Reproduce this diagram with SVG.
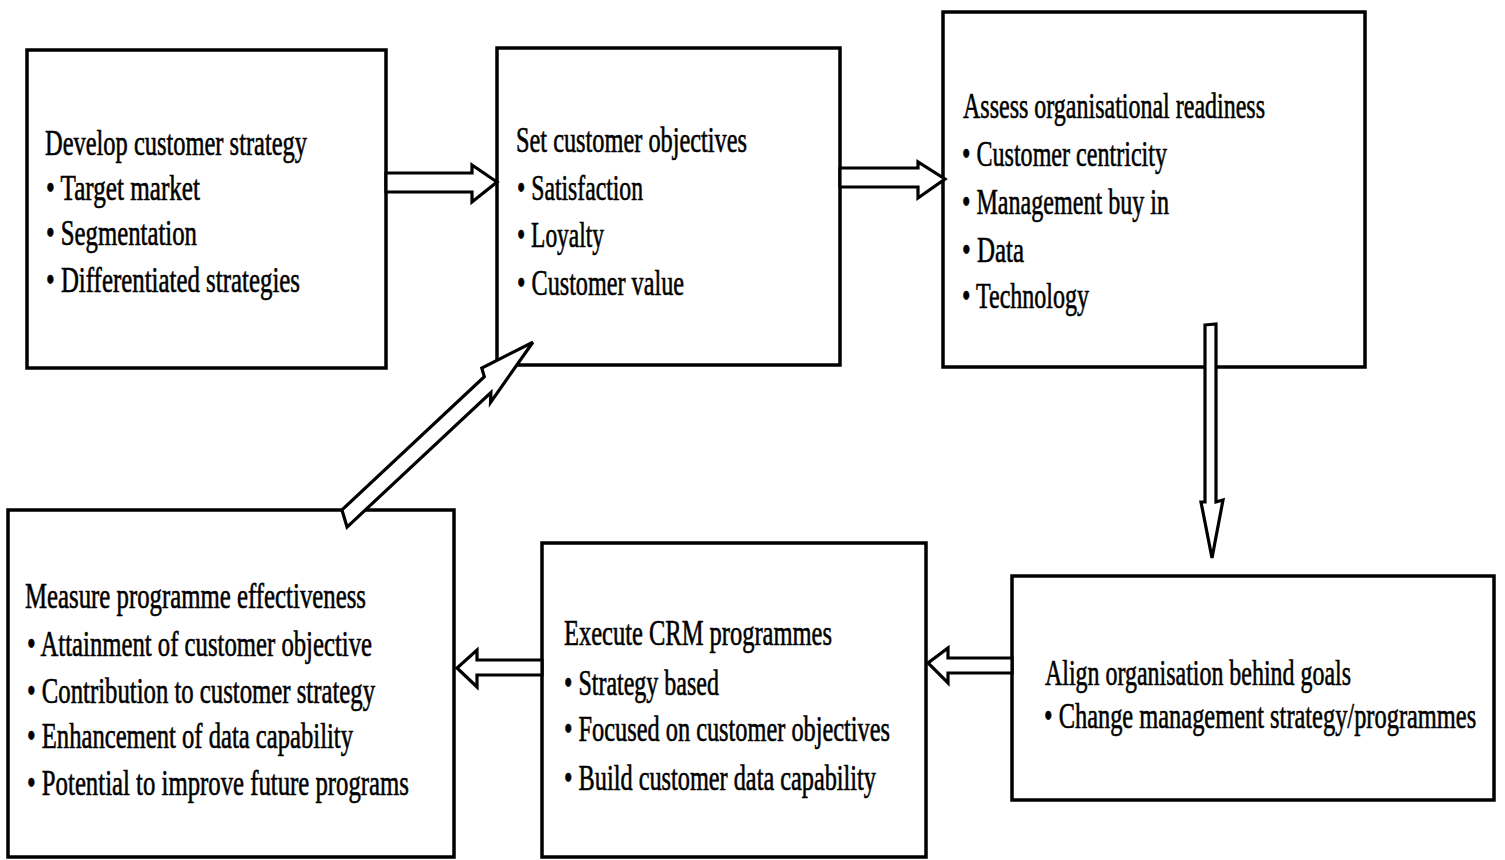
<svg xmlns="http://www.w3.org/2000/svg" width="1505" height="860" viewBox="0 0 1505 860">
  <style>
    .box { fill: #ffffff; stroke: #000000; stroke-width: 3.5; }
    .arrow { fill: #ffffff; stroke: #000000; stroke-width: 3.2; stroke-linejoin: miter; }
    .t { font-family: "Liberation Serif", "Times New Roman", serif; font-size: 35px; fill: #000000; stroke: #000000; stroke-width: 0.6; }
  </style>
  <rect width="1505" height="860" fill="#ffffff"/>

  <!-- Step 1 -->
  <g id="develop-strategy">
    <rect class="box" x="27" y="50" width="359" height="318"/>
    <text class="t" x="45" y="155" textLength="262" lengthAdjust="spacingAndGlyphs">Develop customer strategy</text>
    <text class="t" x="46" y="200" textLength="154" lengthAdjust="spacingAndGlyphs">• Target market</text>
    <text class="t" x="46" y="245" textLength="151" lengthAdjust="spacingAndGlyphs">• Segmentation</text>
    <text class="t" x="46" y="292" textLength="254" lengthAdjust="spacingAndGlyphs">• Differentiated strategies</text>
  </g>

  <!-- Step 2 -->
  <g id="set-objectives">
    <rect class="box" x="497" y="48" width="343" height="317"/>
    <text class="t" x="516" y="152" textLength="231" lengthAdjust="spacingAndGlyphs">Set customer objectives</text>
    <text class="t" x="517" y="200" textLength="126" lengthAdjust="spacingAndGlyphs">• Satisfaction</text>
    <text class="t" x="517" y="247" textLength="87" lengthAdjust="spacingAndGlyphs">• Loyalty</text>
    <text class="t" x="517" y="295" textLength="167" lengthAdjust="spacingAndGlyphs">• Customer value</text>
  </g>

  <!-- Step 3 -->
  <g id="assess-readiness">
    <rect class="box" x="943" y="12" width="422" height="355"/>
    <text class="t" x="963" y="118" textLength="302" lengthAdjust="spacingAndGlyphs">Assess organisational readiness</text>
    <text class="t" x="962" y="166" textLength="205" lengthAdjust="spacingAndGlyphs">• Customer centricity</text>
    <text class="t" x="962" y="214" textLength="207" lengthAdjust="spacingAndGlyphs">• Management buy in</text>
    <text class="t" x="962" y="262" textLength="62" lengthAdjust="spacingAndGlyphs">• Data</text>
    <text class="t" x="962" y="308" textLength="127" lengthAdjust="spacingAndGlyphs">• Technology</text>
  </g>

  <!-- Step 4 -->
  <g id="align-organisation">
    <rect class="box" x="1012" y="576" width="482" height="224"/>
    <text class="t" x="1045" y="685" textLength="306" lengthAdjust="spacingAndGlyphs">Align organisation behind goals</text>
    <!-- long line: condensed with a horizontal scale so its box stays inside the frame -->
    <text class="t" transform="translate(1044,728) scale(0.697,1)" x="0" y="0" textLength="620" lengthAdjust="spacingAndGlyphs">• Change management strategy/programmes</text>
  </g>

  <!-- Step 5 -->
  <g id="execute-programmes">
    <rect class="box" x="542" y="543" width="384" height="314"/>
    <text class="t" x="564" y="645" textLength="268" lengthAdjust="spacingAndGlyphs">Execute CRM programmes</text>
    <text class="t" x="564" y="695" textLength="155" lengthAdjust="spacingAndGlyphs">• Strategy based</text>
    <text class="t" x="564" y="741" textLength="326" lengthAdjust="spacingAndGlyphs">• Focused on customer objectives</text>
    <text class="t" x="564" y="790" textLength="312" lengthAdjust="spacingAndGlyphs">• Build customer data capability</text>
  </g>

  <!-- Step 6 -->
  <g id="measure-effectiveness">
    <rect class="box" x="8" y="510" width="446" height="347"/>
    <text class="t" x="25" y="608" textLength="341" lengthAdjust="spacingAndGlyphs">Measure programme effectiveness</text>
    <text class="t" x="27" y="656" textLength="345" lengthAdjust="spacingAndGlyphs">• Attainment of customer objective</text>
    <text class="t" x="27" y="703" textLength="348" lengthAdjust="spacingAndGlyphs">• Contribution to customer strategy</text>
    <text class="t" x="27" y="748" textLength="326" lengthAdjust="spacingAndGlyphs">• Enhancement of data capability</text>
    <text class="t" x="27" y="795" textLength="382" lengthAdjust="spacingAndGlyphs">• Potential to improve future programs</text>
  </g>

  <!-- Block arrows between steps -->
  <g id="connectors">
    <polygon class="arrow" points="386,173 472,173 472,165 497,182 472,202 472,192 386,192"/>
    <polygon class="arrow" points="840,168 918,168 918,162 945,179 918,198 918,187 840,187"/>
    <polygon class="arrow" points="1205,325 1216,324 1216,502 1223,500 1212,558 1201,502 1205,502"/>
    <polygon class="arrow" points="1012,658 948,658 948,648 928,663 948,683 948,673 1012,673"/>
    <polygon class="arrow" points="542,660 477,660 477,650 457,668 477,687 477,675 542,675"/>
    <polygon class="arrow" transform="translate(344.5,518.5) rotate(-43.1)" points="4,-8 199,-8 203,-16 258,0 186,15 193,8 -4,8"/>
  </g>
</svg>
